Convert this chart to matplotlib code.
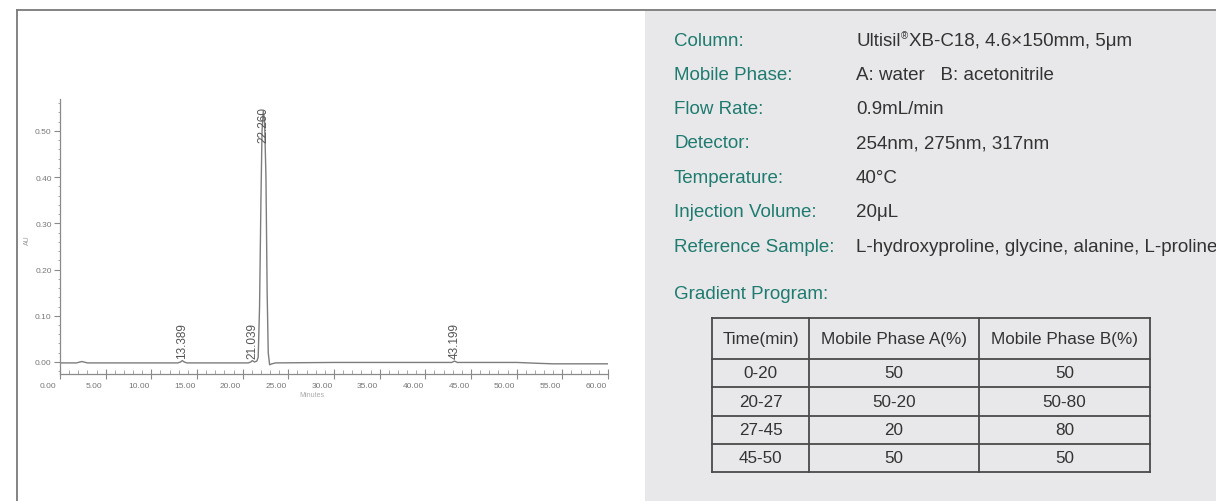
import matplotlib
matplotlib.use("Agg")
import matplotlib.pyplot as plt
import matplotlib.transforms as mtransforms
from matplotlib.ticker import MultipleLocator, FixedLocator

plt.rcParams['font.family'] = ['Liberation Sans', 'DejaVu Sans']

# ---- chromatogram trace (minutes, AU) ----
time_min = [0.0, 1.8, 2.4, 3.0, 4.0, 12.9, 13.2, 13.39, 13.6, 13.9, 20.6, 20.9, 21.04,
            21.3, 21.55, 21.70, 21.85, 22.00, 22.12, 22.26, 22.40, 22.55, 22.68,
            22.80, 22.95, 23.2, 23.6, 30.0, 42.9, 43.2, 43.5, 50.0, 52.5, 54.0, 60.0]
absorbance = [-0.002, -0.002, 0.001, -0.002, -0.002, -0.002, 0.000, 0.003, 0.000, -0.002,
              -0.002, 0.000, 0.003, 0.000, 0.002, 0.010, 0.120, 0.350, 0.500, 0.543,
              0.520, 0.400, 0.150, 0.020, -0.006, -0.004, -0.002, -0.001, -0.001,
              0.002, -0.001, -0.001, -0.003, -0.004, -0.004]

peak_times = [13.389, 21.039, 22.260, 43.199]
peak_labels = ["13.389", "21.039", "22.260", "43.199"]
peak_label_y = [0.008, 0.008, 0.553, 0.008]
peak_label_va = ["bottom", "bottom", "top", "bottom"]

x_ticks = [0, 5, 10, 15, 20, 25, 30, 35, 40, 45, 50, 55, 60]
y_ticks = [0.0, 0.1, 0.2, 0.3, 0.4, 0.5]

# ---- method conditions ----
cond_names = ["Column:", "Mobile Phase:", "Flow Rate:", "Detector:", "Temperature:",
              "Injection Volume:", "Reference Sample:"]
cond_values = [None, "A: water   B: acetonitrile", "0.9mL/min", "254nm, 275nm, 317nm",
               "40°C", "20μL", "L-hydroxyproline, glycine, alanine, L-proline"]
column_parts = ["Ultisil", "®", "XB-C18, 4.6×150mm, 5μm"]

# ---- gradient program ----
grad_header = ["Time(min)", "Mobile Phase A(%)", "Mobile Phase B(%)"]
grad_time = ["0-20", "20-27", "27-45", "45-50"]
grad_a = ["50", "50-20", "20", "50"]
grad_b = ["50", "50-80", "80", "50"]

W, H = 1216, 502
TEAL = "#1f7b6f"
DARK = "#333333"
GREY_BG = "#e8e8ea"

fig = plt.figure(figsize=(W / 100, H / 100), dpi=100)
fig.patch.set_facecolor("white")

# overlay in pixel coordinates for the panel, frame and table
ov = fig.add_axes([0, 0, 1, 1])
ov.set_xlim(0, W)
ov.set_ylim(H, 0)
ov.axis("off")
ov.add_patch(plt.Rectangle((645, 11), W - 645, H - 11, facecolor=GREY_BG,
                           edgecolor="none", zorder=0))
ov.plot([17, W], [11, 11], color="#7a7a7a", lw=1.3, zorder=2)
ov.plot([17, 17], [11, H], color="#7a7a7a", lw=1.3, zorder=2)

# ---- chromatogram axes ----
ax_l, ax_r, ax_t, ax_b = 60, 608, 100, 375
ax = fig.add_axes([ax_l / W, 1 - ax_b / H, (ax_r - ax_l) / W, (ax_b - ax_t) / H])
ax.patch.set_alpha(0)
ax.plot(time_min, absorbance, color="#7d7d7d", lw=1.0)
ax.set_xlim(0, 60)
ax.set_ylim(-0.026, 0.569)
for s in ("top", "right"):
    ax.spines[s].set_visible(False)
for s in ("left", "bottom"):
    ax.spines[s].set_color("#8a8a8a")
    ax.spines[s].set_linewidth(0.9)

ax.xaxis.set_major_locator(FixedLocator(x_ticks))
ax.xaxis.set_minor_locator(MultipleLocator(1))
ax.set_xticklabels([f"{v:.2f}" for v in x_ticks])
ax.yaxis.set_major_locator(FixedLocator(y_ticks))
ax.yaxis.set_minor_locator(MultipleLocator(0.02))
ax.set_yticklabels([f"{v:.2f}" for v in y_ticks])

ax.tick_params(axis="x", which="major", direction="inout", length=7, width=0.8,
               colors="#8a8a8a", labelcolor="#777777", labelsize=6, pad=2)
ax.tick_params(axis="x", which="minor", direction="in", length=3, width=0.6,
               colors="#9a9a9a")
ax.tick_params(axis="y", which="major", direction="out", length=4.5, width=0.8,
               colors="#8a8a8a", labelcolor="#777777", labelsize=6, pad=1.5)
ax.tick_params(axis="y", which="minor", direction="out", length=1.5, width=0.6,
               colors="#9a9a9a")
shift = mtransforms.ScaledTranslation(-0.12, 0, fig.dpi_scale_trans)
for lab in ax.get_xticklabels():
    lab.set_transform(lab.get_transform() + shift)

for t, lab, y, va in zip(peak_times, peak_labels, peak_label_y, peak_label_va):
    ax.text(t, y, lab, rotation=90, ha="center", va=va, fontsize=8.5,
            color="#555555")

fig.text(27 / W, 1 - 240 / H, "AU", rotation=90, fontsize=5, color="#999999",
         ha="center", va="center")
fig.text(312 / W, 1 - 396 / H, "Minutes", fontsize=5, color="#aaaaaa",
         ha="center", va="center")

# ---- method conditions text ----
row_y = [41, 75, 110, 144, 179, 213, 248]
lab_x, val_x = 674, 856
FS = 13.5
for name, val, y in zip(cond_names, cond_values, row_y):
    ov.text(lab_x, y, name, color=TEAL, fontsize=FS, va="center", ha="left")
    if val is not None:
        ov.text(val_x, y, val, color=DARK, fontsize=FS, va="center", ha="left")

renderer = fig.canvas.get_renderer()
inv = ov.transData.inverted()
t1 = ov.text(val_x, row_y[0], column_parts[0], color=DARK, fontsize=FS,
             va="center", ha="left")
x1 = inv.transform(t1.get_window_extent(renderer).get_points())[1][0]
t2 = ov.text(x1 + 0.5, row_y[0] - 5, column_parts[1], color=DARK, fontsize=7,
             va="center", ha="left")
x2 = inv.transform(t2.get_window_extent(renderer).get_points())[1][0]
ov.text(x2 + 1, row_y[0], column_parts[2], color=DARK, fontsize=FS,
        va="center", ha="left")

ov.text(lab_x, 295, "Gradient Program:", color=TEAL, fontsize=FS, va="center",
        ha="left")

# ---- gradient table ----
col_x = [712, 809, 979, 1150]
row_edges = [319, 360, 388, 417, 445, 473]
line_kw = dict(color="#4a4a4a", lw=1.3, zorder=3)
for y in row_edges:
    ov.plot([col_x[0], col_x[-1]], [y, y], **line_kw)
for x in col_x:
    ov.plot([x, x], [row_edges[0], row_edges[-1]], **line_kw)

TFS = 12.3
centers = [(col_x[i] + col_x[i + 1]) / 2 for i in range(3)]
for cx, txt in zip(centers, grad_header):
    ov.text(cx, (row_edges[0] + row_edges[1]) / 2, txt, ha="center", va="center",
            fontsize=TFS, color=DARK)
for r, row in enumerate(zip(grad_time, grad_a, grad_b)):
    cy = (row_edges[r + 1] + row_edges[r + 2]) / 2
    for cx, txt in zip(centers, row):
        ov.text(cx, cy, txt, ha="center", va="center", fontsize=TFS, color=DARK)

fig.savefig("out.png", dpi=100)
